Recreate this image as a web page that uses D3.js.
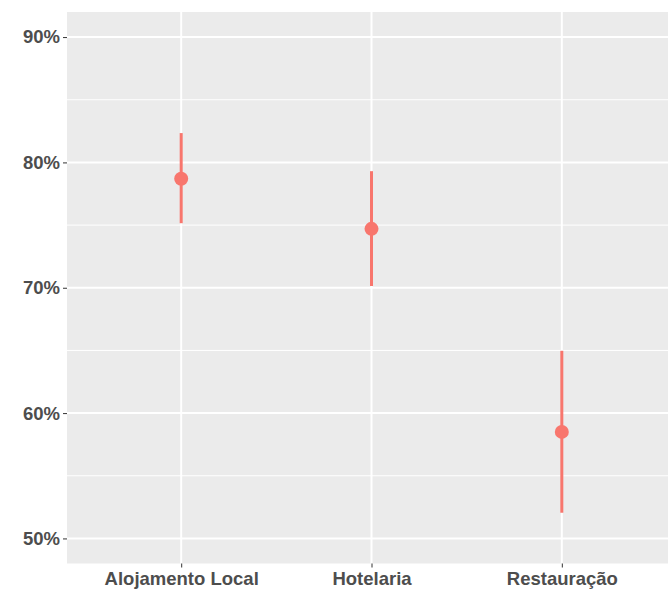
<!DOCTYPE html>
<html>
<head>
<meta charset="utf-8">
<script src="https://cdn.jsdelivr.net/npm/d3@7"></script>
<style>
  body { margin: 0; background: #fff; }
  .tick text { font-family: "Liberation Sans", Arial, sans-serif; font-weight: bold; fill: #4d4d4d; }
</style>
</head>
<body>
<div id="vis"></div>
<script>
// data
var categories = ['Alojamento Local', 'Hotelaria', 'Restauração'];
var estimate = [0.787, 0.747, 0.585];
var lower = [0.7515, 0.7014, 0.5205];
var upper = [0.8234, 0.793, 0.6497];
var yTicks = [0.5, 0.6, 0.7, 0.8, 0.9];
var yMinor = [0.55, 0.65, 0.75, 0.85];

var width = 668, height = 589;
var panel = {left: 67, top: 12, right: 676, bottom: 563.5};

var data = categories.map(function(c, i) {
    return {cat: c, est: estimate[i], lo: lower[i], hi: upper[i]};
});

// discrete x with ggplot-like 0.6 expansion
var xScale = d3.scalePoint().domain(categories)
    .range([panel.left, panel.right]).padding(0.6);
var yScale = d3.scaleLinear().domain([0.48, 0.92])
    .range([panel.bottom, panel.top]);

var svg = d3.select('#vis').append('svg')
    .attr('width', width).attr('height', height);

svg.append('rect')
    .attr('x', panel.left).attr('y', panel.top)
    .attr('width', panel.right - panel.left)
    .attr('height', panel.bottom - panel.top)
    .attr('fill', '#ebebeb');

var grid = svg.append('g');
// minor grid
grid.selectAll('.minor').data(yMinor).enter().append('line')
    .attr('x1', panel.left).attr('x2', panel.right)
    .attr('y1', yScale).attr('y2', yScale)
    .attr('stroke', '#fff').attr('stroke-width', 1);
// major grid
grid.selectAll('.major').data(yTicks).enter().append('line')
    .attr('x1', panel.left).attr('x2', panel.right)
    .attr('y1', yScale).attr('y2', yScale)
    .attr('stroke', '#fff').attr('stroke-width', 2);
grid.selectAll('.vmajor').data(categories).enter().append('line')
    .attr('x1', xScale).attr('x2', xScale)
    .attr('y1', panel.top).attr('y2', panel.bottom)
    .attr('stroke', '#fff').attr('stroke-width', 2);

// error bars + points
var g = svg.append('g');
g.selectAll('.bar').data(data).enter().append('line')
    .attr('x1', function(d) { return xScale(d.cat); })
    .attr('x2', function(d) { return xScale(d.cat); })
    .attr('y1', function(d) { return yScale(d.lo); })
    .attr('y2', function(d) { return yScale(d.hi); })
    .attr('stroke', '#F8766D').attr('stroke-width', 3);
g.selectAll('.pt').data(data).enter().append('circle')
    .attr('cx', function(d) { return xScale(d.cat); })
    .attr('cy', function(d) { return yScale(d.est); })
    .attr('r', 7)
    .attr('fill', '#F8766D');

// axes
var yAxis = d3.axisLeft(yScale).tickValues(yTicks).tickSize(4).tickPadding(3)
    .tickFormat(d3.format('.0%'));
var ya = svg.append('g').attr('transform', 'translate(' + panel.left + ',0)').call(yAxis);
ya.select('.domain').remove();
ya.selectAll('.tick line').attr('stroke', '#333').attr('stroke-width', 1);
ya.selectAll('.tick text').style('font-size', '18.5px');

var xAxis = d3.axisBottom(xScale).tickSize(4).tickPadding(4);
var xa = svg.append('g').attr('transform', 'translate(0,' + panel.bottom + ')').call(xAxis);
xa.select('.domain').remove();
xa.selectAll('.tick line').attr('stroke', '#333').attr('stroke-width', 1);
xa.selectAll('.tick text').style('font-size', '18.5px');
</script>
</body>
</html>
